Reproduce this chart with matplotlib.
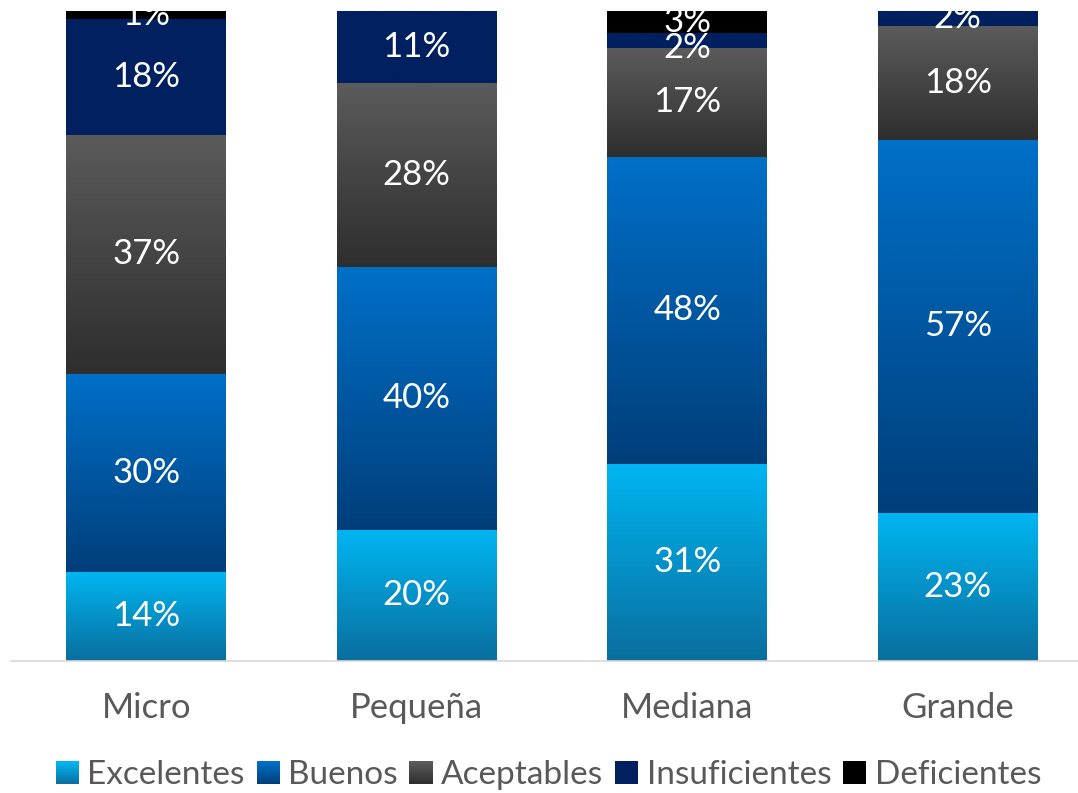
import numpy as np
import matplotlib
matplotlib.use("Agg")
import matplotlib.pyplot as plt
from matplotlib.colors import LinearSegmentedColormap
from matplotlib.legend_handler import HandlerBase
from matplotlib.patches import Rectangle

# =============================================================================
# DATA (share of each category per company size, %) - drawn as 100% stacked
# =============================================================================
categories = ["Micro", "Pequeña", "Mediana", "Grande"]
series_names = ["Excelentes", "Buenos", "Aceptables", "Insuficientes", "Deficientes"]

excelentes = [13.7, 20.0, 30.6, 22.8]
buenos = [30.5, 40.0, 47.6, 57.4]
aceptables = [36.8, 28.0, 16.9, 17.5]
insuficientes = [17.8, 11.0, 2.3, 2.3]
deficientes = [1.2, 0.0, 3.4, 0.0]

series_values = [excelentes, buenos, aceptables, insuficientes, deficientes]

# gradient (top colour, bottom colour) per series
gradients = [
    ("#00B6F2", "#0A6E9E"),
    ("#0070C8", "#003E7A"),
    ("#5B5B5B", "#2E2E2E"),
    ("#002060", "#002060"),
    ("#000000", "#000000"),
]

TEXT_GREY = "#595959"
FONT = ["Lato", "DejaVu Sans"]
FS = 25

# =============================================================================
# FIGURE
# =============================================================================
fig = plt.figure(figsize=(10.78, 7.93), dpi=100)
ax = fig.add_axes([11 / 1078, 132 / 793, 1 - 11 / 1078, 650 / 793])

totals = np.sum(np.array(series_values), axis=0)
x = np.arange(len(categories))
bottom = np.zeros(len(categories))
width = 0.59

for name, raw, (c_top, c_bot) in zip(series_names, series_values, gradients):
    raw = np.array(raw)
    vals = raw / totals * 100
    bars = ax.bar(x, vals, width, bottom=bottom, color=c_bot, linewidth=0, label=name)
    cmap = LinearSegmentedColormap.from_list(name, [c_bot, c_top])
    grad = np.linspace(0, 1, 256).reshape(-1, 1)
    for bar, v, r, b in zip(bars, vals, raw, bottom):
        if v <= 0:
            continue
        bx, by = bar.get_x(), bar.get_y()
        im = ax.imshow(grad, cmap=cmap, origin="lower", aspect="auto",
                       extent=(bx, bx + bar.get_width(), by, by + bar.get_height()),
                       zorder=bar.get_zorder(), interpolation="bicubic")
        im.set_clip_path(bar)
        # small segments: keep label from colliding with the one above
        yl = b + v / 2 if v >= 2.5 or b + v > 99 else b + v / 2 - 1.2
        ax.text(bx + bar.get_width() / 2, yl, f"{r:.0f}%",
                ha="center", va="center", color="white", fontsize=FS,
                family=FONT, zorder=5, clip_on=True)
    bottom += vals

ax.set_xlim(-0.5, 3.445)
ax.set_ylim(0, 100)
ax.set_xticks(x)
ax.set_xticklabels(categories, family=FONT, fontsize=FS, color=TEXT_GREY)
ax.tick_params(axis="x", length=0, pad=22)
ax.set_yticks([])
for side in ["top", "right", "left"]:
    ax.spines[side].set_visible(False)
ax.spines["bottom"].set_color("#D9D9D9")
ax.spines["bottom"].set_linewidth(1.2)


class GradientHandler(HandlerBase):
    def __init__(self, c_top, c_bot):
        super().__init__()
        self.c_top, self.c_bot = c_top, c_bot

    def create_artists(self, legend, orig_handle, xdescent, ydescent, width, height, fontsize, trans):
        size = min(width, height)
        x0 = xdescent + width - size
        y0 = -ydescent
        cmap = LinearSegmentedColormap.from_list("g", [self.c_bot, self.c_top])
        n = 12
        arts = []
        for i in range(n):
            arts.append(Rectangle((x0, y0 + size * i / n), size, size / n + 0.3,
                                  facecolor=cmap(i / (n - 1)), edgecolor="none", transform=trans))
        return arts


handles = [Rectangle((0, 0), 1, 1) for _ in series_names]
handler_map = {h: GradientHandler(ct, cb) for h, (ct, cb) in zip(handles, gradients)}
leg = ax.legend(handles, series_names, handler_map=handler_map, loc="center left",
                bbox_to_anchor=(0.042, -0.176), ncol=5, frameon=False,
                prop={"family": FONT, "size": 24},
                handlelength=0.7, handleheight=0.7, handletextpad=0.25, columnspacing=0.35,
                borderaxespad=0, borderpad=0)
for t in leg.get_texts():
    t.set_color(TEXT_GREY)

fig.savefig("out.png", dpi=100)
